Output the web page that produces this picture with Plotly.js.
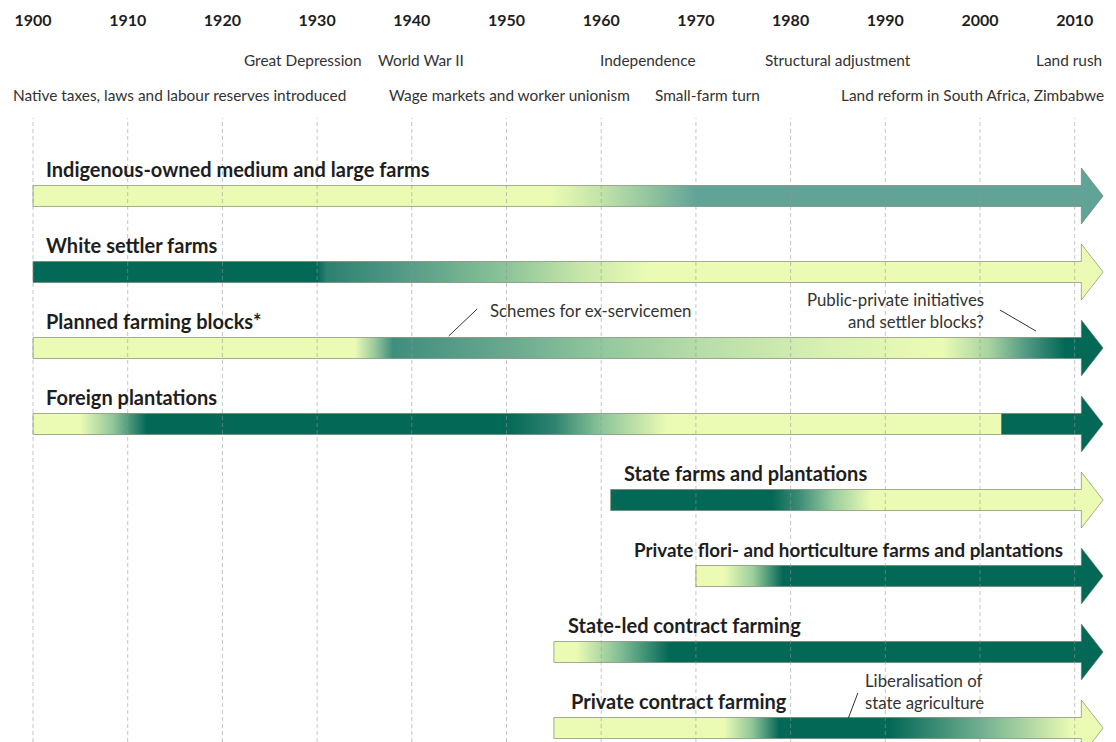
<!DOCTYPE html>
<html><head><meta charset="utf-8">
<script src="https://cdn.plot.ly/plotly-3.0.1.min.js"></script>
<style>html,body{margin:0;padding:0;background:#fff}#chart{width:1116px;height:742px}</style>
</head><body><div id="chart"></div>
<script>
// ---------- data ----------
const decades = [1900,1910,1920,1930,1940,1950,1960,1970,1980,1990,2000,2010];
const decadeLabels = decades.map(String);

const rowLabels = [
  "Indigenous-owned medium and large farms",
  "White settler farms",
  "Planned farming blocks*",
  "Foreign plantations",
  "State farms and plantations",
  "Private flori- and horticulture farms and plantations",
  "State-led contract farming",
  "Private contract farming"
];
const rowStart = [1900,1900,1900,1900,1961,1970,1955,1955];
const labelStart = [1901.2,1901.2,1901.2,1901.2,1962.2,1963.2,1956.3,1956.6];
const labelSize = [20,20,20,20,20,18.8,20,20];

const L = '#ebfbb4', D = '#036856', T = '#62a398';
const indigenousYears  = [1900,1954.6,1960,1965,1970,2013];
const indigenousColors = [L,L,'#c2e3a9','#93c59f',T,T];
const settlerYears  = [1900,1930,1931,1940,1950,1958,1965,2013];
const settlerColors = [D,D,'#2e8070','#589d88','#8cc498','#c8e6aa',L,L];
const plannedYears  = [1900,1934,1936,1938,1950,1960,1970,1984,1996,2001,2005,2009,2013];
const plannedColors = [L,L,'#9dcb9d','#3f8e7c','#68a88f','#92c79e','#b6dca8','#d9f1b2',L,'#a6d3a0','#4f9882',D,D];
const foreignYears  = [1900,1905,1908.5,1912,1950,1955,1960,1967,2002.2,2002.3,2013];
const foreignColors = [L,L,'#8fc59a',D,D,'#2e8270','#8cc49a',L,L,D,D];
const stateFarmYears  = [1961,1978,1981,1984.5,1988.5,2013];
const stateFarmColors = [D,D,'#3f8e78','#9acd9e',L,L];
const floriYears  = [1970,1973,1976,1979.2,2013];
const floriColors = [L,L,'#9dcf9c',D,D];
const stateLedYears  = [1955,1957.4,1962,1967.2,2013];
const stateLedColors = [L,L,'#82bd96',D,D];
const privContractYears  = [1955,1973,1976,1978.8,1990.4,2000,2009.8,2013];
const privContractColors = [L,L,'#8ec597',D,D,'#6fae90',L,L];

const gradYears  = [indigenousYears,settlerYears,plannedYears,foreignYears,stateFarmYears,floriYears,stateLedYears,privContractYears];
const gradColors = [indigenousColors,settlerColors,plannedColors,foreignColors,stateFarmColors,floriColors,stateLedColors,privContractColors];

const eventsTop = ["Great Depression","World War II","Independence","Structural adjustment","Land rush"];
const eventsTopYear = [1928.5,1941,1964.9,1985,2009.4];
const eventsBottom = ["Native taxes, laws and labour reserves introduced","Wage markets and worker unionism","Small-farm turn","Land reform in South Africa, Zimbabwe"];
const eventsBottomYear = [1915.5,1950.3,1971.2,1999.2];

// ---------- geometry (layout) ----------
const SHAFT_END = 2010.7, TIP = 2013.0;
const h = 10.5/76, H = 28/76;
const FONT = 'Lato, "Open Sans", sans-serif';

const traces = rowLabels.map((name,i)=>{
  const s = rowStart[i], c = i;
  const x = [s, SHAFT_END, SHAFT_END, TIP, SHAFT_END, SHAFT_END, s, s];
  const y = [c-h, c-h, c-H, c, c+H, c+h, c+h, c-h];
  const ys = gradYears[i], cs = gradColors[i];
  const colorscale = ys.map((yr,k)=>[(yr-s)/(TIP-s), cs[k]]);
  colorscale[0][0]=0; colorscale[colorscale.length-1][0]=1;
  return {
    type:'scatter', mode:'lines', x, y, fill:'toself', name,
    line:{color:'rgba(110,120,95,0.6)', width:1},
    fillgradient:{type:'horizontal', start:s, stop:TIP, colorscale},
    hoverinfo:'skip', showlegend:false
  };
});

const annotations = [];
rowLabels.forEach((t,i)=>annotations.push({
  text:t, x:labelStart[i], y:i-27/76, xref:'x', yref:'y', xanchor:'left', yanchor:'middle',
  showarrow:false, font:{family:FONT, size:labelSize[i], weight:700, color:'#1e1e1e'}
}));
const pyTop = (742-60)/624, pyBot = (742-95)/624;
const evFont = {family:FONT, size:15.4, color:'#333'};
eventsTop.forEach((t,i)=>annotations.push({
  text:t, x:eventsTopYear[i], y:pyTop, xref:'x', yref:'paper', xanchor:'center', yanchor:'middle',
  showarrow:false, font:evFont
}));
eventsBottom.forEach((t,i)=>annotations.push({
  text:t, x:eventsBottomYear[i], y:pyBot, xref:'x', yref:'paper', xanchor:'center', yanchor:'middle',
  showarrow:false, font:evFont
}));
// callouts
const noteFont = {family:FONT, size:16.8, color:'#333'};
annotations.push({text:"Schemes for ex-servicemen", x:1948.0, y:(311-196)/76, xref:'x', yref:'y', xanchor:'left', yanchor:'middle', showarrow:false, font:noteFont});
annotations.push({text:"Public-private initiatives", x:2000.6, y:(300-196)/76, xref:'x', yref:'y', xanchor:'right', yanchor:'middle', showarrow:false, font:noteFont});
annotations.push({text:"and settler blocks?", x:2000.6, y:(322-196)/76, xref:'x', yref:'y', xanchor:'right', yanchor:'middle', showarrow:false, font:noteFont});
annotations.push({text:"Liberalisation of", x:1987.6, y:(680-196)/76, xref:'x', yref:'y', xanchor:'left', yanchor:'middle', showarrow:false, font:noteFont});
annotations.push({text:"state agriculture", x:1987.6, y:(702-196)/76, xref:'x', yref:'y', xanchor:'left', yanchor:'middle', showarrow:false, font:noteFont});

const shapes = decades.map(d=>({
  type:'line', xref:'x', yref:'paper', x0:d, x1:d, y0:0, y1:1, layer:'above',
  line:{color:'rgba(150,150,150,0.55)', width:1, dash:'4px,3px'}
}));
const leader = {color:'#333', width:1};
shapes.push({type:'line', xref:'x', yref:'y', x0:1943.9, y0:(336-196)/76, x1:1946.9, y1:(309-196)/76, line:leader});
shapes.push({type:'line', xref:'x', yref:'y', x0:2002.1, y0:(310-196)/76, x1:2005.9, y1:(331-196)/76, line:leader});
shapes.push({type:'line', xref:'x', yref:'y', x0:1986.1, y0:(718-196)/76, x1:1987.1, y1:(693-196)/76, line:leader});

const layout = {
  width:1116, height:742,
  margin:{l:0, r:0, t:118, b:0, pad:0},
  paper_bgcolor:'#fff', plot_bgcolor:'#fff',
  xaxis:{range:[1896.515, 2014.36], side:'top', tickvals:decades, ticktext:decadeLabels,
         showgrid:false, zeroline:false, showline:false, ticks:'', ticklabelstandoff:88,
         tickfont:{family:FONT, size:16, weight:700, color:'#1e1e1e'}, fixedrange:true},
  yaxis:{range:[7.184, -1.026], showgrid:false, zeroline:false, showline:false,
         showticklabels:false, ticks:'', fixedrange:true},
  annotations, shapes, showlegend:false
};
Plotly.newPlot('chart', traces, layout, {displayModeBar:false, staticPlot:true});
</script></body></html>
